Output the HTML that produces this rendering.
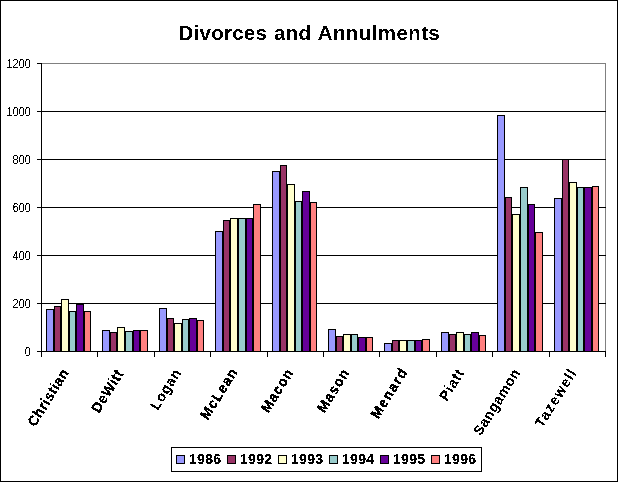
<!DOCTYPE html>
<html><head><meta charset="utf-8"><title>Divorces and Annulments</title>
<style>
html,body{margin:0;padding:0;background:#fff;}
#c{position:relative;width:618px;height:482px;box-sizing:border-box;border:1px solid #000;background:#fff;overflow:hidden;font-family:"Liberation Sans",sans-serif;color:#000;}
#c div{position:absolute;box-sizing:border-box;}
.t span{display:inline-block;}
/* all coordinates inside #i are page coordinates */
#i{left:-1px;top:-1px;width:618px;height:482px;}
.t{left:178.5px;top:21px;text-align:left;font-weight:bold;font-size:20.5px;line-height:24px;white-space:nowrap;word-spacing:3px;letter-spacing:0.25px;}
.g{left:41px;width:565px;height:1px;background:#000;}
.yl{text-align:left;white-space:nowrap;letter-spacing:-0.117px;font-size:11px;line-height:14px;height:14px;transform-origin:0 50%;transform:scale(1,1.13);}
.yt{left:37px;width:5px;height:1px;background:#000;}
.xt{top:351px;width:1px;height:6px;background:#000;}
.b{border:1px solid #000;}
.cl{font-weight:bold;font-size:14px;letter-spacing:1.2px;line-height:16px;height:16px;white-space:nowrap;transform-origin:100% 100%;transform:rotate(-58deg);text-align:right;}
.lg{left:171px;top:447px;width:311px;height:25px;border:1px solid #000;background:#fff;}
.sw{width:9px;height:9px;top:455px;border:1px solid #000;}
.lt{top:451px;letter-spacing:0.3px;font-weight:bold;font-size:14px;line-height:16px;height:16px;white-space:nowrap;}
.t{filter:url(#thr);}
.lt,.cl{filter:url(#thr3);}
.yl{filter:url(#thr2);}
</style></head><body>
<svg width="0" height="0" style="position:absolute"><defs><filter id="thr" x="0" y="0" width="100%" height="100%" color-interpolation-filters="sRGB"><feComponentTransfer><feFuncA type="discrete" tableValues="0 1"/></feComponentTransfer></filter><filter id="thr2" x="0" y="0" width="100%" height="100%" color-interpolation-filters="sRGB"><feComponentTransfer><feFuncA type="discrete" tableValues="0 1"/></feComponentTransfer></filter><filter id="thr3" x="0" y="0" width="100%" height="100%" color-interpolation-filters="sRGB"><feComponentTransfer><feFuncA type="discrete" tableValues="0 0 1 1 1"/></feComponentTransfer></filter></defs></svg>
<div id="c"><div id="i">
<div class="t"><span>Divorces</span> <span style="margin-left:-2px">and</span> <span style="margin-left:-2.5px;letter-spacing:0.4px">Annulments</span></div>

<div style="left:41px;top:63px;width:565px;height:1px;background:#808080"></div>
<div style="left:605px;top:63px;width:1px;height:289px;background:#808080"></div>
<div class="g" style="top:303px"></div>
<div class="g" style="top:255px"></div>
<div class="g" style="top:207px"></div>
<div class="g" style="top:159px"></div>
<div class="g" style="top:111px"></div>
<div class="b" style="left:46px;top:309px;width:8px;height:43px;background:#9999ff"></div>
<div class="b" style="left:54px;top:306px;width:7px;height:46px;background:#993366"></div>
<div class="b" style="left:61px;top:299px;width:8px;height:53px;background:#ffffcc"></div>
<div class="b" style="left:69px;top:311px;width:7px;height:41px;background:#99cccc"></div>
<div class="b" style="left:76px;top:304px;width:8px;height:48px;background:#660099"></div>
<div class="b" style="left:84px;top:311px;width:7px;height:41px;background:#ff8080"></div>
<div class="b" style="left:102px;top:330px;width:8px;height:22px;background:#9999ff"></div>
<div class="b" style="left:110px;top:332px;width:7px;height:20px;background:#993366"></div>
<div class="b" style="left:117px;top:327px;width:8px;height:25px;background:#ffffcc"></div>
<div class="b" style="left:125px;top:331px;width:8px;height:21px;background:#99cccc"></div>
<div class="b" style="left:133px;top:330px;width:7px;height:22px;background:#660099"></div>
<div class="b" style="left:140px;top:330px;width:8px;height:22px;background:#ff8080"></div>
<div class="b" style="left:159px;top:308px;width:8px;height:44px;background:#9999ff"></div>
<div class="b" style="left:167px;top:318px;width:7px;height:34px;background:#993366"></div>
<div class="b" style="left:174px;top:323px;width:8px;height:29px;background:#ffffcc"></div>
<div class="b" style="left:182px;top:319px;width:7px;height:33px;background:#99cccc"></div>
<div class="b" style="left:189px;top:318px;width:8px;height:34px;background:#660099"></div>
<div class="b" style="left:197px;top:320px;width:7px;height:32px;background:#ff8080"></div>
<div class="b" style="left:215px;top:231px;width:8px;height:121px;background:#9999ff"></div>
<div class="b" style="left:223px;top:220px;width:7px;height:132px;background:#993366"></div>
<div class="b" style="left:230px;top:218px;width:8px;height:134px;background:#ffffcc"></div>
<div class="b" style="left:238px;top:218px;width:8px;height:134px;background:#99cccc"></div>
<div class="b" style="left:246px;top:218px;width:7px;height:134px;background:#660099"></div>
<div class="b" style="left:253px;top:204px;width:8px;height:148px;background:#ff8080"></div>
<div class="b" style="left:272px;top:171px;width:8px;height:181px;background:#9999ff"></div>
<div class="b" style="left:280px;top:165px;width:7px;height:187px;background:#993366"></div>
<div class="b" style="left:287px;top:184px;width:8px;height:168px;background:#ffffcc"></div>
<div class="b" style="left:295px;top:201px;width:7px;height:151px;background:#99cccc"></div>
<div class="b" style="left:302px;top:191px;width:8px;height:161px;background:#660099"></div>
<div class="b" style="left:310px;top:202px;width:7px;height:150px;background:#ff8080"></div>
<div class="b" style="left:328px;top:329px;width:8px;height:23px;background:#9999ff"></div>
<div class="b" style="left:336px;top:336px;width:7px;height:16px;background:#993366"></div>
<div class="b" style="left:343px;top:334px;width:8px;height:18px;background:#ffffcc"></div>
<div class="b" style="left:351px;top:334px;width:7px;height:18px;background:#99cccc"></div>
<div class="b" style="left:358px;top:337px;width:8px;height:15px;background:#660099"></div>
<div class="b" style="left:366px;top:337px;width:7px;height:15px;background:#ff8080"></div>
<div class="b" style="left:384px;top:343px;width:8px;height:9px;background:#9999ff"></div>
<div class="b" style="left:392px;top:340px;width:7px;height:12px;background:#993366"></div>
<div class="b" style="left:399px;top:340px;width:8px;height:12px;background:#ffffcc"></div>
<div class="b" style="left:407px;top:340px;width:8px;height:12px;background:#99cccc"></div>
<div class="b" style="left:415px;top:340px;width:7px;height:12px;background:#660099"></div>
<div class="b" style="left:422px;top:339px;width:8px;height:13px;background:#ff8080"></div>
<div class="b" style="left:441px;top:332px;width:8px;height:20px;background:#9999ff"></div>
<div class="b" style="left:449px;top:334px;width:7px;height:18px;background:#993366"></div>
<div class="b" style="left:456px;top:332px;width:8px;height:20px;background:#ffffcc"></div>
<div class="b" style="left:464px;top:334px;width:7px;height:18px;background:#99cccc"></div>
<div class="b" style="left:471px;top:332px;width:8px;height:20px;background:#660099"></div>
<div class="b" style="left:479px;top:335px;width:7px;height:17px;background:#ff8080"></div>
<div class="b" style="left:497px;top:115px;width:8px;height:237px;background:#9999ff"></div>
<div class="b" style="left:505px;top:197px;width:7px;height:155px;background:#993366"></div>
<div class="b" style="left:512px;top:214px;width:8px;height:138px;background:#ffffcc"></div>
<div class="b" style="left:520px;top:187px;width:8px;height:165px;background:#99cccc"></div>
<div class="b" style="left:528px;top:204px;width:7px;height:148px;background:#660099"></div>
<div class="b" style="left:535px;top:232px;width:8px;height:120px;background:#ff8080"></div>
<div class="b" style="left:554px;top:198px;width:8px;height:154px;background:#9999ff"></div>
<div class="b" style="left:562px;top:159px;width:7px;height:193px;background:#993366"></div>
<div class="b" style="left:569px;top:182px;width:8px;height:170px;background:#ffffcc"></div>
<div class="b" style="left:577px;top:187px;width:7px;height:165px;background:#99cccc"></div>
<div class="b" style="left:584px;top:187px;width:8px;height:165px;background:#660099"></div>
<div class="b" style="left:592px;top:186px;width:7px;height:166px;background:#ff8080"></div>
<div style="left:41px;top:63px;width:1px;height:289px;background:#000"></div>
<div style="left:41px;top:351px;width:565px;height:1px;background:#000"></div>
<div class="yt" style="top:351px"></div>
<div class="yl" style="left:24.40px;top:344px">0</div>
<div class="yt" style="top:303px"></div>
<div class="yl" style="left:12.40px;top:296px">200</div>
<div class="yt" style="top:255px"></div>
<div class="yl" style="left:12.40px;top:248px">400</div>
<div class="yt" style="top:207px"></div>
<div class="yl" style="left:12.40px;top:200px">600</div>
<div class="yt" style="top:159px"></div>
<div class="yl" style="left:12.40px;top:152px">800</div>
<div class="yt" style="top:111px"></div>
<div class="yl" style="left:6.40px;top:104px">1000</div>
<div class="yt" style="top:63px"></div>
<div class="yl" style="left:6.40px;top:56px">1200</div>
<div class="xt" style="left:41px"></div>
<div class="xt" style="left:97px"></div>
<div class="xt" style="left:154px"></div>
<div class="xt" style="left:210px"></div>
<div class="xt" style="left:267px"></div>
<div class="xt" style="left:323px"></div>
<div class="xt" style="left:379px"></div>
<div class="xt" style="left:436px"></div>
<div class="xt" style="left:492px"></div>
<div class="xt" style="left:549px"></div>
<div class="xt" style="left:605px"></div>
<div class="cl" style="right:546.3px;top:357.7px;letter-spacing:0.5px">Christian</div>
<div class="cl" style="right:490.8px;top:359.0px;letter-spacing:0.6px">DeWitt</div>
<div class="cl" style="right:433.8px;top:357.8px;letter-spacing:0.7px;filter:url(#thr)">Logan</div>
<div class="cl" style="right:376.8px;top:356.9px;letter-spacing:1.0px">McLean</div>
<div class="cl" style="right:321.0px;top:357.6px;letter-spacing:0.9px">Macon</div>
<div class="cl" style="right:265.0px;top:357.6px;letter-spacing:0.9px">Mason</div>
<div class="cl" style="right:206.8px;top:356.9px;letter-spacing:1.2px">Menard</div>
<div class="cl" style="right:150.6px;top:357.5px;letter-spacing:0.9px;filter:url(#thr)">Piatt</div>
<div class="cl" style="right:94.5px;top:358.3px;letter-spacing:0.5px;filter:url(#thr)">Sangamon</div>
<div class="cl" style="right:37.9px;top:357.6px;letter-spacing:1.2px;filter:url(#thr)">Tazewell</div>
<div class="lg"></div>
<div class="sw" style="left:176px;background:#9999ff"></div>
<div class="lt" style="left:189px">1986</div>
<div class="sw" style="left:227px;background:#993366"></div>
<div class="lt" style="left:240px">1992</div>
<div class="sw" style="left:278px;background:#ffffcc"></div>
<div class="lt" style="left:291px">1993</div>
<div class="sw" style="left:329px;background:#99cccc"></div>
<div class="lt" style="left:342px">1994</div>
<div class="sw" style="left:380px;background:#660099"></div>
<div class="lt" style="left:393px">1995</div>
<div class="sw" style="left:431px;background:#ff8080"></div>
<div class="lt" style="left:444px">1996</div>
</div></div>
</body></html>
